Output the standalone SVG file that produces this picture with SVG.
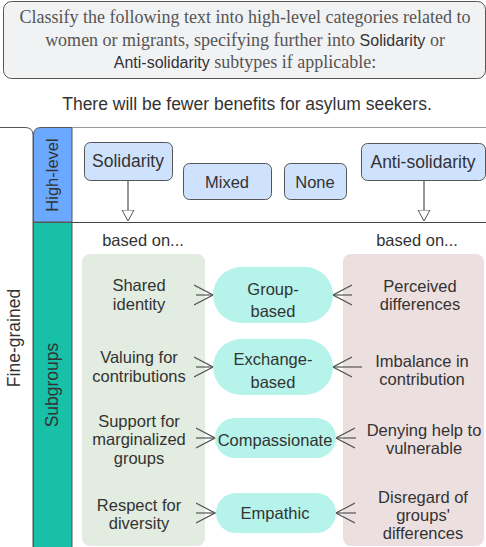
<svg xmlns="http://www.w3.org/2000/svg" width="486" height="547" viewBox="0 0 486 547">
<style>
.t{font-family:"Liberation Sans",Arial,sans-serif;font-size:16.5px;fill:#333;text-anchor:middle}
.ser{font-family:"Liberation Serif","Times New Roman",serif;font-size:18px;fill:#555;text-anchor:middle}
.ss{font-family:"Liberation Sans",Arial,sans-serif;font-size:16px;fill:#333}
.hl{fill:#cfe2fd;stroke:#555;stroke-width:1}
.pill{fill:#b6f3ea}
.ln{stroke:#555;stroke-width:1.2;fill:none}
</style>
<defs>
<marker id="tri" viewBox="0 0 12 14" refX="11" refY="7" markerWidth="12" markerHeight="14" markerUnits="userSpaceOnUse" orient="auto">
<path d="M0,1 L11,7 L0,13 Z" fill="#fff" stroke="#555" stroke-width="1"/>
</marker>
<marker id="vee" viewBox="0 0 20 22" refX="19" refY="11" markerWidth="20" markerHeight="22" markerUnits="userSpaceOnUse" orient="auto">
<path d="M0,1 L19,11 L0,21" fill="none" stroke="#555" stroke-width="1.2"/>
</marker>
</defs>
<rect width="486" height="547" fill="#fff"/>
<g id="prompt">
<rect x="3.5" y="1.5" width="482" height="77" rx="8" fill="#f1f2f4" stroke="#555" stroke-width="1"/>
<text class="ser" x="245" y="23">Classify the following text into high-level categories related to</text>
<text class="ser" x="245" y="46">women or migrants, specifying further into <tspan class="ss">Solidarity</tspan> or</text>
<text class="ser" x="245" y="68"><tspan class="ss">Anti-solidarity</tspan> subtypes if applicable:</text>
</g>
<g id="input">
<text class="t" x="247" y="110" style="font-size:17.5px">There will be fewer benefits for asylum seekers.</text>
</g>
<g id="frame">
<path d="M-10,127.5 H25 Q33,127.5 33,135 V547" fill="#fff" stroke="#555" stroke-width="1"/>
<text class="t" transform="translate(20,338) rotate(-90)" style="font-size:17.5px">Fine-grained</text>
<line x1="72" y1="127.5" x2="486" y2="127.5" stroke="#999" stroke-width="1"/>
<line x1="72" y1="222.5" x2="486" y2="222.5" stroke="#444" stroke-width="1"/>
<path d="M33.5,222 V135 Q33.5,127.5 41,127.5 H72 V222 Z" fill="#6aa9ff" stroke="#555" stroke-width="1"/>
<rect x="33.5" y="222.5" width="38.5" height="330" fill="#17c0a6" stroke="#555" stroke-width="1"/>
<text class="t" transform="translate(58,175) rotate(-90)" style="font-size:16.5px">High-level</text>
<text class="t" transform="translate(58,385) rotate(-90)" style="font-size:17.5px">Subgroups</text>
</g>
<g id="panels">
<rect x="82" y="254" width="123" height="292" rx="8" fill="#e2ece0"/>
<rect x="343" y="254" width="141" height="292" rx="8" fill="#ecdfdf"/>
</g>
<g id="connectors">
<line class="ln" x1="128" y1="180" x2="128" y2="221" marker-end="url(#tri)"/>
<line class="ln" x1="424" y1="180" x2="424" y2="221" marker-end="url(#tri)"/>
<line class="ln" x1="196" y1="295" x2="213" y2="295" marker-end="url(#vee)"/>
<line class="ln" x1="196" y1="367" x2="213" y2="367" marker-end="url(#vee)"/>
<line class="ln" x1="196" y1="438" x2="215" y2="438" marker-end="url(#vee)"/>
<line class="ln" x1="196" y1="513" x2="215" y2="513" marker-end="url(#vee)"/>
<line class="ln" x1="352" y1="295" x2="333" y2="295" marker-end="url(#vee)"/>
<line class="ln" x1="362" y1="367" x2="333" y2="367" marker-end="url(#vee)"/>
<line class="ln" x1="356" y1="438" x2="336" y2="438" marker-end="url(#vee)"/>
<line class="ln" x1="356" y1="513" x2="336" y2="513" marker-end="url(#vee)"/>
</g>
<g id="solidarity"><rect class="hl" x="84.5" y="142.5" width="88" height="38" rx="6"/><text class="t" x="128" y="167" style="font-size:17.5px">Solidarity</text></g>
<g id="mixed"><rect class="hl" x="183.5" y="163.5" width="88" height="36" rx="6"/><text class="t" x="227" y="187.5">Mixed</text></g>
<g id="none"><rect class="hl" x="284.5" y="163.5" width="62" height="36" rx="6"/><text class="t" x="315" y="187.5">None</text></g>
<g id="anti-solidarity"><rect class="hl" x="361.5" y="143.5" width="124" height="37" rx="6"/><text class="t" x="423" y="167.5" style="font-size:17.5px">Anti-solidarity</text></g>
<g id="based-on">
<text class="t" x="143" y="246">based on...</text>
<text class="t" x="417" y="246">based on...</text>
</g>
<g id="sol-items">
<text class="t" x="139" y="291">Shared</text><text class="t" x="139" y="309.5">identity</text>
<text class="t" x="139" y="362.5">Valuing for</text><text class="t" x="139" y="381.5">contributions</text>
<text class="t" x="139" y="426.5">Support for</text><text class="t" x="139" y="445">marginalized</text><text class="t" x="139" y="463.5">groups</text>
<text class="t" x="139" y="510.5">Respect for</text><text class="t" x="139" y="528.5">diversity</text>
</g>
<g id="group-based"><rect class="pill" x="213" y="267" width="120" height="56" rx="28"/><text class="t" x="273" y="294.5">Group-</text><text class="t" x="273" y="316.5">based</text></g>
<g id="exchange-based"><rect class="pill" x="213" y="339" width="120" height="56" rx="28"/><text class="t" x="273" y="364.5">Exchange-</text><text class="t" x="273" y="387.5">based</text></g>
<g id="compassionate"><rect class="pill" x="215" y="418" width="121" height="40" rx="20"/><text class="t" x="275" y="445.5">Compassionate</text></g>
<g id="empathic"><rect class="pill" x="216" y="493" width="120" height="40" rx="20"/><text class="t" x="275" y="518.5">Empathic</text></g>
<g id="anti-items">
<text class="t" x="420" y="291.5">Perceived</text><text class="t" x="420" y="309.5">differences</text>
<text class="t" x="422" y="366.5">Imbalance in</text><text class="t" x="422" y="384.5">contribution</text>
<text class="t" x="424" y="435.5">Denying help to</text><text class="t" x="424" y="453.5">vulnerable</text>
<text class="t" x="423" y="502.5">Disregard of</text><text class="t" x="423" y="520.5">groups'</text><text class="t" x="423" y="538.5">differences</text>
</g>
</svg>
